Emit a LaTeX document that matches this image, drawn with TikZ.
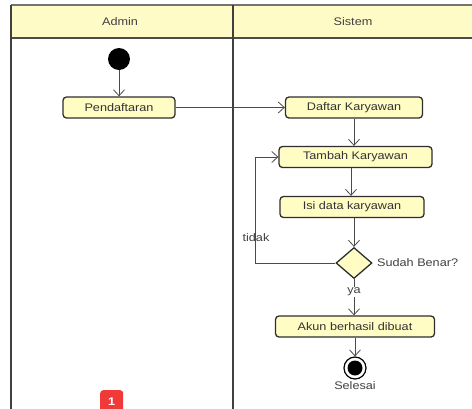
\documentclass[tikz,border=0pt]{standalone}
\usepackage{fontspec}
\setmainfont{Liberation Sans}[FakeStretch=1.15]
\usetikzlibrary{arrows.meta,shapes.geometric,positioning}
\definecolor{umlfill}{HTML}{FFFCC4}
\definecolor{hdrfill}{HTML}{FFFBC6}
\definecolor{edgegray}{HTML}{4A4A4A}
\definecolor{boxline}{HTML}{2E2E2E}
\definecolor{badgered}{HTML}{F03A3A}
\tikzset{
  x=1pt, y=-1pt,
  act/.style={draw=boxline, line width=1.3pt, fill=umlfill, rounded corners=3.5pt,
    minimum height=21pt, inner sep=0pt, font=\fontsize{11}{12}\selectfont, text=black!80},
  flow/.style={draw=edgegray, line width=0.8pt, -{Straight Barb[length=6pt,width=11pt,line width=0.8pt]}},
  lane/.style={draw=black!75, line width=1.4pt},
  lbl/.style={font=\fontsize{11}{12}\selectfont, text=black!75, inner sep=0pt},
}
\begin{document}
\begin{tikzpicture}
\useasboundingbox (0,0) rectangle (472,408);
% header
\fill[hdrfill] (11,5) rectangle (474,38);
\draw[black!55, line width=1.2pt] (11,5) -- (474,5);
\draw[black!70, line width=1.4pt] (11,38) -- (474,38);
\draw[lane] (11,5) -- (11,410);
\draw[lane] (233,5) -- (233,410);
\node[lbl] (hA) at (120,22) {Admin};
\node[lbl] (hS) at (353,22) {Sistem};
% nodes
\node[circle, fill=black, minimum size=22pt, inner sep=0pt] (start) at (119,59) {};
\node[act, minimum width=112pt] (p) at (119,107.5) {Pendaftaran};
\node[act, minimum width=137pt] (dk) at (354,107.5) {Daftar Karyawan};
\node[act, minimum width=153pt] (tk) at (355.5,157) {Tambah Karyawan};
\node[act, minimum width=144pt] (isi) at (352,207) {Isi data karyawan};
\node[diamond, draw=boxline, line width=1.3pt, fill=umlfill, minimum width=36pt, minimum height=31pt, inner sep=0pt, aspect=1.15] (dec) at (354,263) {};
\node[lbl, anchor=west] (sb) at (377,263) {Sudah Benar?};
\node[act, minimum width=159pt] (akun) at (355,326.5) {Akun berhasil dibuat};
\node[circle, draw=black, line width=1.2pt, fill=white, minimum size=22pt, inner sep=0pt] (end) at (355,368) {};
\node[circle, fill=black, minimum size=15pt, inner sep=0pt] (endin) at (end) {};
\node[lbl] (sel) at (355,386) {Selesai};
% flows
\draw[flow] (start) -- (p);
\draw[flow] (p) -- (dk);
\draw[flow] (dk.south -| 354,0) -- (tk.north -| 354,0);
\draw[flow] (tk.south -| 351,0) -- (isi.north -| 351,0);
\draw[flow] (isi.south -| 354,0) -- (dec.north);
\coordinate (lc) at (255,263);
\draw[flow] (dec.west) -- (lc) |- (tk.west);
\node[lbl] (tidak) at (256,238) {tidak};
\draw[flow] (dec.south) -- (akun.north -| dec.south);
\node[lbl, fill=white, inner sep=1pt] (ya) at (354,292) {ya};
\draw[flow] (akun.south -| end) -- (end);
% badge
\node[fill=badgered, rounded corners=3pt, minimum width=23pt, minimum height=24pt, inner sep=0pt, anchor=north west, text=white, font=\fontsize{11}{11}\selectfont\bfseries] (badge) at (100,390) {1};
\end{tikzpicture}
\end{document}
